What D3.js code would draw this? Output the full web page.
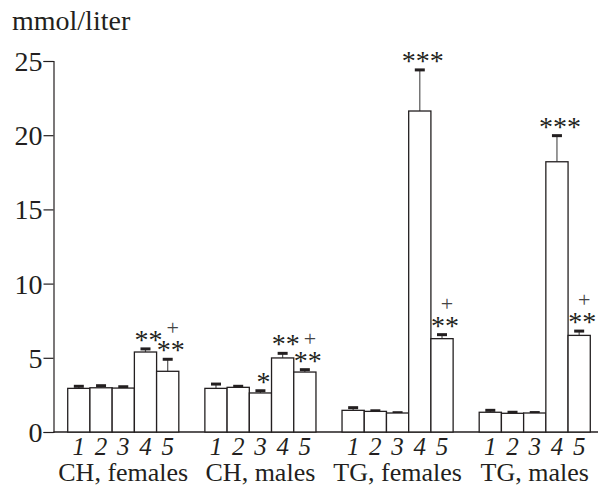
<!DOCTYPE html>
<html>
<head>
<meta charset="utf-8">
<script src="https://cdn.jsdelivr.net/npm/d3@7"></script>
<style>
  body { margin: 0; background: #fff; }
  text { font-family: "Liberation Serif", "Times New Roman", serif; fill: #231f20; }
</style>
</head>
<body>
<svg id="chart" width="598" height="486"></svg>
<script>
// data
var groups = ["CH, females", "CH, males", "TG, females", "TG, males"];
var barLabels = ["1", "2", "3", "4", "5"];
var means = [
    [2.94, 2.98, 2.96, 5.39, 4.09],
    [2.94, 3.01, 2.63, 4.99, 4.04],
    [1.46, 1.39, 1.28, 21.63, 6.29],
    [1.33, 1.26, 1.28, 18.21, 6.51]
];
var errTops = [
    [3.08, 3.12, 3.05, 5.60, 4.90],
    [3.23, 3.08, 2.78, 5.30, 4.20],
    [1.64, 1.43, 1.30, 24.40, 6.56],
    [1.46, 1.33, 1.31, 19.97, 6.80]
];
var stars = [
    ["", "", "", "**", "**"],
    ["", "", "*", "**", "**"],
    ["", "", "", "***", "**"],
    ["", "", "", "***", "**"]
];
var plus = [
    ["", "", "", "", "+"],
    ["", "", "", "", "+"],
    ["", "", "", "", "+"],
    ["", "", "", "", "+"]
];
var yTicks = [0, 5, 10, 15, 20, 25];

var svg = d3.select("#chart");

var y = d3.scaleLinear().domain([0, 25]).range([432, 61]);

var x0 = d3.scaleBand().domain(groups).range([54, 604])
    .paddingInner(0.19).paddingOuter(0.1);
var x1 = d3.scaleBand().domain(barLabels).range([0, x0.bandwidth()]);

// y axis
var yAxis = svg.append("g")
    .attr("transform", "translate(53.5,0)")
    .call(d3.axisLeft(y).tickValues(yTicks).tickSize(10).tickPadding(1));
yAxis.selectAll("text").style("font-size", "28px").attr("dy", "0.34em");
yAxis.selectAll("line, path").attr("stroke", "#231f20").attr("stroke-width", 1.2);

// baseline
svg.append("line")
    .attr("x1", 53.5).attr("x2", 598)
    .attr("y1", y(0)).attr("y2", y(0))
    .attr("stroke", "#231f20").attr("stroke-width", 1.3);

svg.append("text")
    .attr("x", 12).attr("y", 30)
    .style("font-size", "28px")
    .text("mmol/liter");

var rows = [];
groups.forEach(function(gname, i) {
    barLabels.forEach(function(b, j) {
        rows.push({
            group: gname,
            bar: b,
            value: means[i][j],
            err: errTops[i][j],
            star: stars[i][j],
            plus: plus[i][j]
        });
    });
});

var bx = function(d) { return x0(d.group) + x1(d.bar); };
var cx = function(d) { return bx(d) + x1.bandwidth() / 2; };

// error stems
svg.append("g").selectAll("line")
    .data(rows).enter().append("line")
    .attr("x1", cx).attr("x2", cx)
    .attr("y1", function(d) { return y(d.value); })
    .attr("y2", function(d) { return y(d.err); })
    .attr("stroke", "#555").attr("stroke-width", 1.2);

// error caps
svg.append("g").selectAll("line")
    .data(rows).enter().append("line")
    .attr("x1", function(d) { return cx(d) - 5; })
    .attr("x2", function(d) { return cx(d) + 5; })
    .attr("y1", function(d) { return y(d.err); })
    .attr("y2", function(d) { return y(d.err); })
    .attr("stroke", "#231f20").attr("stroke-width", 3);

// bars
svg.append("g").selectAll("rect")
    .data(rows).enter().append("rect")
    .attr("x", bx)
    .attr("y", function(d) { return y(d.value); })
    .attr("width", x1.bandwidth())
    .attr("height", function(d) { return y(0) - y(d.value); })
    .attr("fill", "#fff")
    .attr("stroke", "#231f20")
    .attr("stroke-width", 1.3);

// significance marks
svg.append("g").selectAll("text")
    .data(rows.filter(function(d) { return d.star; })).enter().append("text")
    .attr("x", function(d) { return cx(d) + 3; })
    .attr("y", function(d) { return y(d.err); })
    .attr("text-anchor", "middle")
    .style("font-size", "28px")
    .text(function(d) { return d.star; });

svg.append("g").selectAll("text")
    .data(rows.filter(function(d) { return d.plus; })).enter().append("text")
    .attr("x", function(d) { return cx(d) + 5; })
    .attr("y", function(d) { return y(d.err) - 24; })
    .attr("text-anchor", "middle")
    .style("font-size", "22px")
    .style("fill", "#444")
    .text(function(d) { return d.plus; });

// bar numbers and group names
svg.append("g").selectAll("text")
    .data(rows).enter().append("text")
    .attr("x", cx)
    .attr("y", 455)
    .attr("text-anchor", "middle")
    .style("font-size", "25px")
    .style("font-style", "italic")
    .text(function(d) { return d.bar; });

svg.append("g").selectAll("text")
    .data(groups).enter().append("text")
    .attr("x", function(d) { return x0(d) + x0.bandwidth() / 2; })
    .attr("y", 481)
    .attr("text-anchor", "middle")
    .style("font-size", "26px")
    .text(function(d) { return d; });
</script>
</body>
</html>
